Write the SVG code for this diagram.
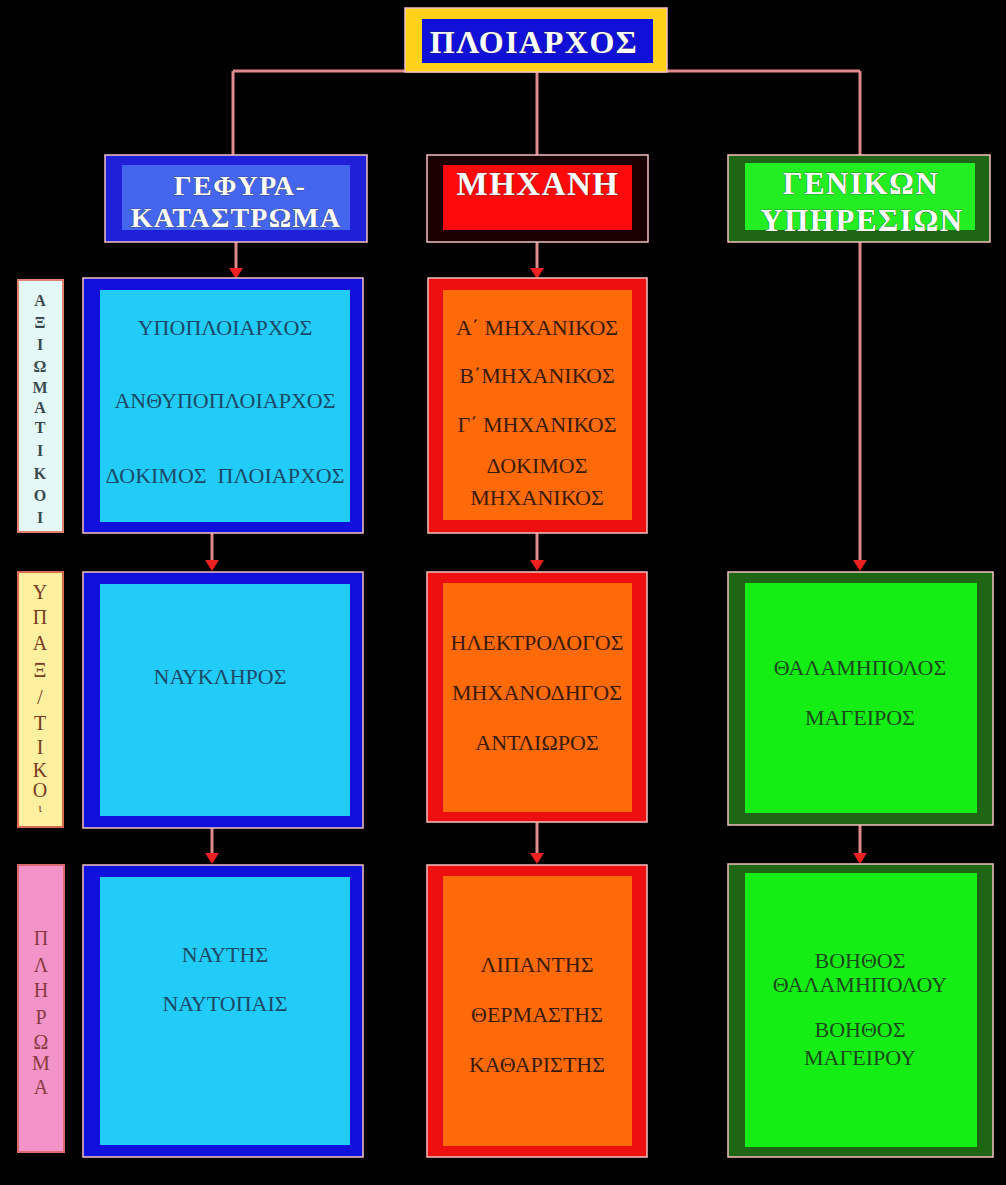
<svg xmlns="http://www.w3.org/2000/svg" width="1006" height="1185" viewBox="0 0 1006 1185">
<style>
.hdr{font-family:"Liberation Serif",serif;font-weight:bold;fill:#ffffff;stroke:#333;stroke-width:0.6;paint-order:stroke;text-anchor:middle}
.body{font-family:"Liberation Serif",serif;font-size:22px;text-anchor:middle}
.side{font-family:"Liberation Serif",serif;text-anchor:middle}
.edge{stroke:#e08a8a;stroke-width:3;fill:none}
.frame{stroke:#f4c0c0;stroke-width:1.5}
.arrow{fill:#ee2020}
</style>
<rect width="1006" height="1185" fill="#000"/>
<g id="connectors">
<path class="edge" d="M233,71 H860"/>
<path class="edge" d="M233,71 V155"/>
<path class="edge" d="M537,71 V155"/>
<path class="edge" d="M860,71 V155"/>
<path class="edge" d="M236,242 V270"/>
<polygon class="arrow" points="229,268 243,268 236,279"/>
<path class="edge" d="M537,242 V270"/>
<polygon class="arrow" points="530,268 544,268 537,279"/>
<path class="edge" d="M212,533 V562"/>
<polygon class="arrow" points="205,560 219,560 212,571"/>
<path class="edge" d="M537,533 V562"/>
<polygon class="arrow" points="530,560 544,560 537,571"/>
<path class="edge" d="M860,242 V562"/>
<polygon class="arrow" points="853,560 867,560 860,571"/>
<path class="edge" d="M212,828 V855"/>
<polygon class="arrow" points="205,853 219,853 212,864"/>
<path class="edge" d="M537,822 V855"/>
<polygon class="arrow" points="530,853 544,853 537,864"/>
<path class="edge" d="M860,825 V855"/>
<polygon class="arrow" points="853,853 867,853 860,864"/>
</g>
<g id="ploiarchos">
<rect class="frame" x="405" y="8" width="262" height="64" fill="#ffd21a"/>
<rect x="422" y="19" width="231" height="44" fill="#1010d8"/>
<text class="hdr" x="534" y="53" font-size="32" letter-spacing="1.5">ΠΛΟΙΑΡΧΟΣ</text>
</g>
<g id="gefyra">
<rect class="frame" x="105" y="155" width="262" height="87" fill="#2020d8"/>
<rect x="122" y="165" width="228" height="65" fill="#4466ee"/>
<text class="hdr" x="240" y="195" font-size="28" letter-spacing="1.5">ΓΕΦΥΡΑ-</text>
<text class="hdr" x="236" y="227" font-size="28" letter-spacing="1.2">ΚΑΤΑΣΤΡΩΜΑ</text>
</g>
<g id="michani">
<rect class="frame" x="427" y="155" width="221" height="87" fill="#1a0000"/>
<rect x="443" y="165" width="189" height="65" fill="#ff0a0a"/>
<text class="hdr" x="538" y="195" font-size="33" letter-spacing="1.5">ΜΗΧΑΝΗ</text>
</g>
<g id="genikon">
<rect class="frame" x="728" y="155" width="262" height="87" fill="#1e6614"/>
<rect x="745" y="163" width="230" height="67" fill="#22ee22"/>
<text class="hdr" x="861" y="194" font-size="31" font-weight="normal" letter-spacing="1.5">ΓΕΝΙΚΩΝ</text>
<text class="hdr" x="862" y="231" font-size="31" font-weight="normal" letter-spacing="1.5">ΥΠΗΡΕΣΙΩΝ</text>
</g>
<g id="side-axiomatikoi">
<rect x="18" y="280" width="45" height="252" fill="#e4f8f8" stroke="#e08070" stroke-width="2"/>
<g class="side" font-size="16" font-weight="bold" fill="#3a4a50">
<text x="40" y="306">Α</text><text x="40" y="328">Ξ</text><text x="40" y="350">Ι</text><text x="40" y="372">Ω</text><text x="40" y="393">Μ</text><text x="40" y="413">Α</text><text x="40" y="433">Τ</text><text x="40" y="456">Ι</text><text x="40" y="479">Κ</text><text x="40" y="501">Ο</text><text x="40" y="523">Ι</text>
</g>
</g>
<g id="side-ypaxiomatikoi">
<rect x="18" y="572" width="45" height="255" fill="#fff0a0" stroke="#d86a50" stroke-width="2"/>
<g class="side" font-size="20" fill="#7a3a20">
<text x="40" y="599">Υ</text><text x="40" y="624">Π</text><text x="40" y="650">Α</text><text x="40" y="677">Ξ</text><text x="40" y="704">/</text><text x="40" y="730">Τ</text><text x="40" y="754">Ι</text><text x="40" y="777">Κ</text><text x="40" y="797">Ο</text><text x="40" y="812" font-size="12">ι</text>
</g>
</g>
<g id="side-pliroma">
<rect x="18" y="865" width="46" height="287" fill="#f294c8" stroke="#d86a70" stroke-width="2"/>
<g class="side" font-size="20" fill="#8a3a40">
<text x="41" y="945">Π</text><text x="41" y="972">Λ</text><text x="41" y="997">Η</text><text x="41" y="1024">Ρ</text><text x="41" y="1049">Ω</text><text x="41" y="1070">Μ</text><text x="41" y="1094">Α</text>
</g>
</g>
<g id="deck-officers">
<rect class="frame" x="83" y="278" width="280" height="255" fill="#1010dd"/>
<rect x="100" y="290" width="250" height="232" fill="#22ccf8"/>
<g class="body" fill="#1a4a66">
<text x="225" y="335">ΥΠΟΠΛΟΙΑΡΧΟΣ</text>
<text x="225" y="408">ΑΝΘΥΠΟΠΛΟΙΑΡΧΟΣ</text>
<text x="225" y="483" xml:space="preserve">ΔΟΚΙΜΟΣ  ΠΛΟΙΑΡΧΟΣ</text>
</g>
</g>
<g id="engine-officers">
<rect class="frame" x="428" y="278" width="219" height="255" fill="#ee1010"/>
<rect x="443" y="290" width="189" height="230" fill="#ff6a08"/>
<g class="body" fill="#3a1a08">
<text x="537" y="335">Α΄ ΜΗΧΑΝΙΚΟΣ</text>
<text x="537" y="383">Β΄ΜΗΧΑΝΙΚΟΣ</text>
<text x="537" y="432">Γ΄ ΜΗΧΑΝΙΚΟΣ</text>
<text x="537" y="473">ΔΟΚΙΜΟΣ</text>
<text x="537" y="505">ΜΗΧΑΝΙΚΟΣ</text>
</g>
</g>
<g id="deck-ratings">
<rect class="frame" x="83" y="572" width="280" height="256" fill="#1010dd"/>
<rect x="100" y="584" width="250" height="232" fill="#22ccf8"/>
<text class="body" x="220" y="684" fill="#1a4a66">ΝΑΥΚΛΗΡΟΣ</text>
</g>
<g id="engine-ratings">
<rect class="frame" x="427" y="572" width="220" height="250" fill="#ee1010"/>
<rect x="443" y="583" width="189" height="229" fill="#ff6a08"/>
<g class="body" fill="#3a1a08">
<text x="537" y="650">ΗΛΕΚΤΡΟΛΟΓΟΣ</text>
<text x="537" y="700">ΜΗΧΑΝΟΔΗΓΟΣ</text>
<text x="537" y="750">ΑΝΤΛΙΩΡΟΣ</text>
</g>
</g>
<g id="general-ratings">
<rect class="frame" x="728" y="572" width="265" height="253" fill="#1e6614"/>
<rect x="745" y="583" width="232" height="230" fill="#14ee14"/>
<g class="body" fill="#1a4a1a">
<text x="860" y="675">ΘΑΛΑΜΗΠΟΛΟΣ</text>
<text x="860" y="725">ΜΑΓΕΙΡΟΣ</text>
</g>
</g>
<g id="deck-crew">
<rect class="frame" x="83" y="865" width="280" height="292" fill="#1010dd"/>
<rect x="100" y="877" width="250" height="268" fill="#22ccf8"/>
<g class="body" fill="#1a4a66">
<text x="225" y="962">ΝΑΥΤΗΣ</text>
<text x="225" y="1011">ΝΑΥΤΟΠΑΙΣ</text>
</g>
</g>
<g id="engine-crew">
<rect class="frame" x="427" y="865" width="220" height="292" fill="#ee1010"/>
<rect x="443" y="876" width="189" height="270" fill="#ff6a08"/>
<g class="body" fill="#3a1a08">
<text x="537" y="972">ΛΙΠΑΝΤΗΣ</text>
<text x="537" y="1022">ΘΕΡΜΑΣΤΗΣ</text>
<text x="537" y="1072">ΚΑΘΑΡΙΣΤΗΣ</text>
</g>
</g>
<g id="general-crew">
<rect class="frame" x="728" y="864" width="265" height="293" fill="#1e6614"/>
<rect x="745" y="873" width="232" height="274" fill="#14ee14"/>
<g class="body" fill="#1a4a1a">
<text x="860" y="968">ΒΟΗΘΟΣ</text>
<text x="860" y="992">ΘΑΛΑΜΗΠΟΛΟΥ</text>
<text x="860" y="1037">ΒΟΗΘΟΣ</text>
<text x="860" y="1065">ΜΑΓΕΙΡΟΥ</text>
</g>
</g>
</svg>
